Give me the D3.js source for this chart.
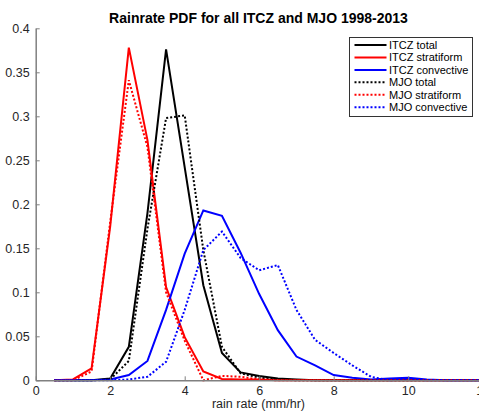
<!DOCTYPE html>
<html>
<head>
<meta charset="utf-8">
<script src="https://cdn.jsdelivr.net/npm/d3@7"></script>
<style>
    body { margin: 0; background: #fff; }
    text { font-family: "Liberation Sans", Arial, Helvetica, sans-serif; }
</style>
</head>
<body>
<svg id="chart"></svg>
<script>
var width = 479;
var height = 411;

// rain rate bins (mm/hr)
var rainRate = [0.5, 1, 1.5, 2, 2.5, 3, 3.5, 4, 4.5, 5, 5.5, 6, 6.5, 7, 7.5, 8, 8.5, 9, 9.5, 10, 10.5, 11, 11.5, 12];

var itczTotal = [0, 0, 0, 0.002, 0.038, 0.19, 0.376, 0.242, 0.108, 0.031, 0.009, 0.005, 0.002, 0.001, 0, 0, 0, 0, 0, 0, 0, 0, 0, 0];
var itczStrat = [0, 0.001, 0.0136, 0.175, 0.378, 0.273, 0.106, 0.049, 0.01, 0.0015, 0.001, 0.001, 0, 0, 0, 0, 0, 0, 0, 0, 0, 0, 0, 0];
var itczConv = [0, 0, 0, 0.001, 0.006, 0.022, 0.08, 0.144, 0.193, 0.187, 0.145, 0.098, 0.057, 0.027, 0.017, 0.006, 0.003, 0.001, 0.002, 0.003, 0.001, 0, 0, 0];
var mjoTotal = [0, 0, 0, 0.001, 0.022, 0.172, 0.298, 0.301, 0.148, 0.038, 0.008, 0.003, 0.001, 0, 0, 0, 0, 0, 0, 0, 0, 0, 0, 0];
var mjoStrat = [0, 0, 0.01, 0.18, 0.341, 0.265, 0.1, 0.045, 0, 0.005, 0.004, 0.001, 0, 0, 0, 0, 0, 0, 0, 0, 0, 0, 0, 0];
var mjoConv = [0, 0, 0, 0, 0.001, 0.004, 0.021, 0.08, 0.148, 0.169, 0.139, 0.125, 0.131, 0.08, 0.046, 0.031, 0.017, 0.004, 0, 0.001, 0, 0, 0, 0];

var xTicks = [0, 2, 4, 6, 8, 10, 12];
var yTicks = [0, 0.05, 0.1, 0.15, 0.2, 0.25, 0.3, 0.35, 0.4];

var seriesNames = ['ITCZ total', 'ITCZ stratiform', 'ITCZ convective', 'MJO total', 'MJO stratiform', 'MJO convective'];
var seriesValues = [itczTotal, itczStrat, itczConv, mjoTotal, mjoStrat, mjoConv];
var seriesColors = ['#000000', '#ff0000', '#0000ff', '#000000', '#ff0000', '#0000ff'];
var seriesDotted = [false, false, false, true, true, true];

var series = seriesNames.map(function (name, i) {
    return {
        name: name,
        color: seriesColors[i],
        dotted: seriesDotted[i],
        points: rainRate.map(function (r, j) {
            return [r, seriesValues[i][j]];
        })
    };
});

var svg = d3.select('#chart')
    .attr('width', width)
    .attr('height', height);

var x = d3.scaleLinear().domain([0, 12]).range([35.7, 482.7]);
var y = d3.scaleLinear().domain([0, 0.4]).range([380.3, 28.3]);

var line = d3.line()
    .x(function (d) { return x(d[0]); })
    .y(function (d) { return y(d[1]); });

// lines
svg.append('g')
    .selectAll('path')
    .data(series)
    .enter().append('path')
    .attr('fill', 'none')
    .attr('stroke', function (d) { return d.color; })
    .attr('stroke-width', 2)
    .attr('stroke-dasharray', function (d) { return d.dotted ? '2,2' : null; })
    .attr('stroke-linejoin', 'miter')
    .attr('d', function (d) { return line(d.points); });

// axes (inward ticks, no box)
var yAxis = svg.append('g')
    .attr('transform', 'translate(' + x(0) + ',0)')
    .call(d3.axisLeft(y)
        .tickValues(yTicks)
        .tickSizeInner(-4)
        .tickSizeOuter(0)
        .tickPadding(6)
        .tickFormat(function (d) { return String(+d.toFixed(2)); }));

var xAxis = svg.append('g')
    .attr('transform', 'translate(0,' + y(0) + ')')
    .call(d3.axisBottom(x)
        .tickValues(xTicks)
        .tickSizeInner(-4)
        .tickSizeOuter(0)
        .tickPadding(6)
        .tickFormat(function (d) { return d; }));

[xAxis, yAxis].forEach(function (ax) {
    ax.select('.domain').attr('stroke', '#808080').attr('stroke-width', 1.5);
    ax.selectAll('.tick line').attr('stroke', '#808080').attr('stroke-width', 1);
    ax.selectAll('.tick text')
        .attr('fill', '#262626')
        .style('font-size', '12.5px')
        .style('font-family', '"Liberation Sans", Arial, sans-serif');
});

// title and label
svg.append('text')
    .attr('x', 258.5)
    .attr('y', 23)
    .attr('text-anchor', 'middle')
    .style('font-size', '14px')
    .style('font-weight', 'bold')
    .text('Rainrate PDF for all ITCZ and MJO 1998-2013');

svg.append('text')
    .attr('x', 258.5)
    .attr('y', 408)
    .attr('text-anchor', 'middle')
    .attr('fill', '#262626')
    .style('font-size', '12.5px')
    .text('rain rate (mm/hr)');

// legend
var legend = svg.append('g')
    .attr('transform', 'translate(349.5,37.5)');

legend.append('rect')
    .attr('width', 123)
    .attr('height', 79)
    .attr('fill', '#fff')
    .attr('stroke', '#333')
    .attr('stroke-width', 1);

var rows = legend.selectAll('g.row')
    .data(series)
    .enter().append('g')
    .attr('class', 'row')
    .attr('transform', function (d, i) {
        return 'translate(0,' + (7.5 + i * 12.45) + ')';
    });

rows.append('line')
    .attr('x1', 5)
    .attr('x2', 37)
    .attr('stroke', function (d) { return d.color; })
    .attr('stroke-width', 2)
    .attr('stroke-dasharray', function (d) { return d.dotted ? '2,2' : null; });

rows.append('text')
    .attr('x', 39.5)
    .attr('dy', '0.35em')
    .style('font-size', '11px')
    .text(function (d) { return d.name; });
</script>
</body>
</html>
